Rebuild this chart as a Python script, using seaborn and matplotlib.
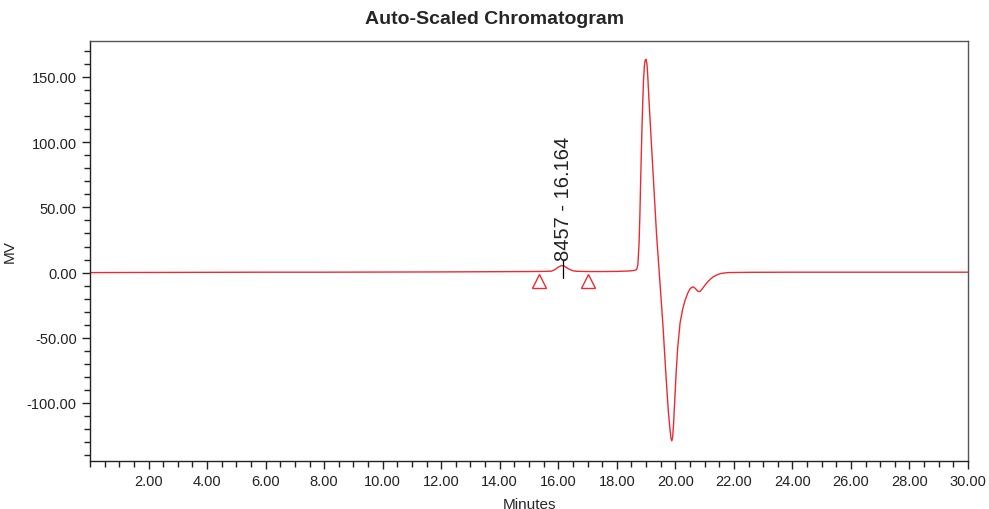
import numpy as np
import pandas as pd
import matplotlib
matplotlib.use("Agg")
import matplotlib.pyplot as plt
from matplotlib.ticker import MultipleLocator, FormatStrFormatter
import seaborn as sns

# =========================
# DATA
# =========================
minutes = [0, 2, 4, 6, 8, 10, 12, 14, 15.0, 15.5, 15.77, 15.9, 16.0, 16.11,
           16.22, 16.35, 16.5, 16.63, 17.0, 17.5, 18.0, 18.4, 18.6, 18.68,
           18.72, 18.76, 18.79, 18.82, 18.85, 18.88, 18.91, 18.94, 18.97,
           19.0, 19.03, 19.06, 19.1, 19.15, 19.25, 19.36, 19.45, 19.52, 19.59,
           19.65, 19.70, 19.76, 19.82, 19.85, 19.88, 19.91, 19.94, 19.98,
           20.03, 20.08, 20.16, 20.25, 20.33, 20.42, 20.5, 20.58, 20.64, 20.7,
           20.77, 20.84, 20.92, 21.0, 21.1, 21.2, 21.3, 21.42, 21.55, 21.8,
           22.5, 24, 26, 28, 30]
mv = [0.0, 0.1, 0.2, 0.3, 0.3, 0.4, 0.5, 0.7, 0.8, 0.9, 1.1, 2.4, 4.2, 5.4,
      4.8, 2.8, 1.4, 1.0, 0.8, 0.8, 0.9, 1.2, 1.6, 2.4, 6.0, 22, 45, 75,
      102, 126, 146, 158, 163, 163.5, 160, 150, 132, 112, 72, 28.6, 0, -22,
      -45, -68, -86, -106, -121, -127, -129, -126, -116, -98, -76, -58, -39,
      -28, -21.5, -16, -12.5, -11, -11.3, -12.6, -14.3, -14.6, -12.5, -10,
      -7.2, -5, -3.2, -1.8, -0.7, 0.0, 0.2, 0.3, 0.3, 0.3, 0.3]

peak_label = "8457 - 16.164"
peak_time = 16.164
marker_times = [15.35, 17.02]
marker_mv = [-6.5, -6.5]

df = pd.DataFrame({"Minutes": minutes, "MV": mv})

# =========================
# PLOT
# =========================
sns.set_style("ticks")
plt.rcParams["font.family"] = ["Liberation Sans", "DejaVu Sans"]
plt.rcParams["axes.unicode_minus"] = False

fig = plt.figure(figsize=(9.89, 5.10), dpi=100)
ax = fig.add_axes([90 / 989, 1 - 462 / 510, 878 / 989, 420 / 510])

red = "#ea2b33"
sns.lineplot(data=df, x="Minutes", y="MV", ax=ax, color=red, linewidth=1.0)

ax.plot(marker_times, marker_mv, linestyle="none", marker="^", markersize=10,
        markerfacecolor="none", markeredgecolor=red, markeredgewidth=1.0)
ax.plot([peak_time, peak_time], [-4, 10], color="black", linewidth=0.9)
ax.text(peak_time, 10, peak_label, rotation=90, ha="center", va="bottom",
        fontsize=14.5, color="#222222")

ax.set_xlim(0, 30)
ax.set_ylim(-144.5, 177.6)
ax.xaxis.set_major_locator(MultipleLocator(2))
ax.xaxis.set_minor_locator(MultipleLocator(0.5))
ax.yaxis.set_major_locator(MultipleLocator(50))
ax.yaxis.set_minor_locator(MultipleLocator(10))
ax.xaxis.set_major_formatter(FormatStrFormatter("%.2f"))
ax.yaxis.set_major_formatter(FormatStrFormatter("%.2f"))
ax.set_xticks(np.arange(2, 31, 2))

ax.tick_params(which="major", direction="out", length=6, width=1, labelsize=10.5,
               colors="#222222")
ax.tick_params(which="minor", direction="out", length=4, width=1, color="#222222")

for side in ["left", "bottom"]:
    ax.spines[side].set_color("#222222")
    ax.spines[side].set_linewidth(1.0)
for side in ["top", "right"]:
    ax.spines[side].set_visible(True)
    ax.spines[side].set_color("#555555")
    ax.spines[side].set_linewidth(1.0)

ax.set_xlabel("Minutes", fontsize=11, labelpad=6)
ax.set_ylabel("MV", fontsize=11)
ax.yaxis.set_label_coords(-0.083, 0.5)
fig.suptitle("Auto-Scaled Chromatogram", fontsize=14, fontweight="bold",
             y=1 - 20 / 510, va="center")

plt.savefig("out.png", dpi=100)
